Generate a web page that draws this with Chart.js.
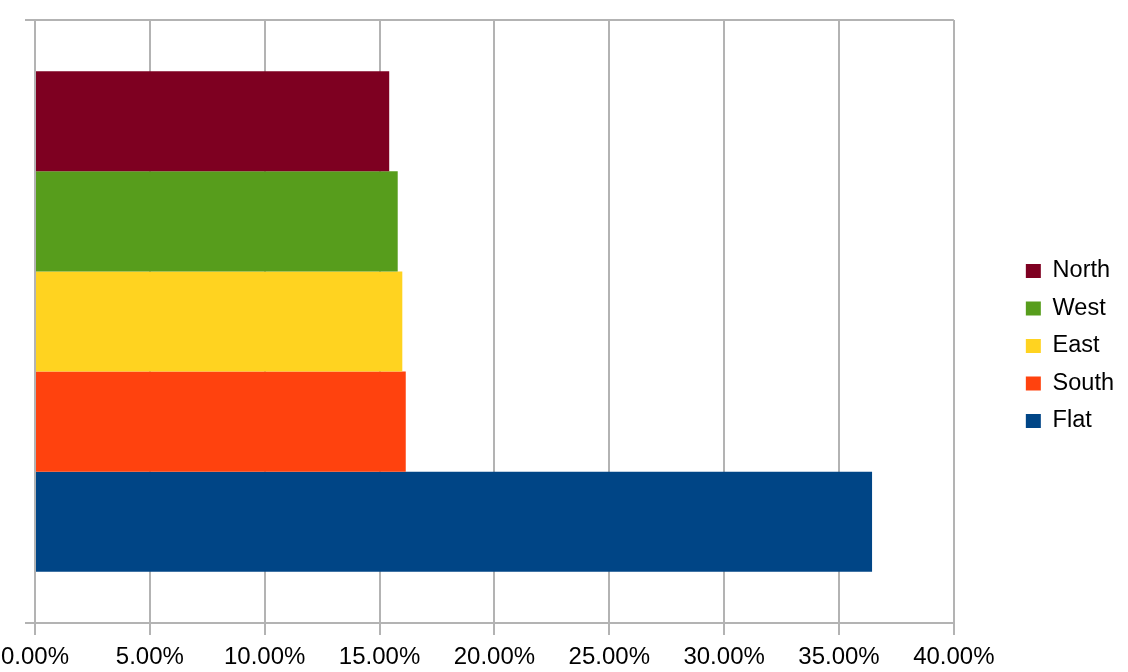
<!DOCTYPE html>
<html><head><meta charset="utf-8">
<script src="https://cdn.jsdelivr.net/npm/chart.js@4/dist/chart.umd.min.js"></script>
<style>html,body{margin:0;padding:0;background:#fff;overflow:hidden}</style>
</head><body>
<canvas id="c" width="1128" height="672"></canvas>
<script>
const categories = [''];
const seriesNames = ['North', 'West', 'East', 'South', 'Flat'];
const seriesColors = ['#7e0021', '#579d1c', '#ffd320', '#ff420e', '#004586'];
const northValues = [15.42];
const westValues = [15.79];
const eastValues = [15.99];
const southValues = [16.14];
const flatValues = [36.44];
const xMin = 0, xMax = 40, xStep = 5;

const seriesValues = [northValues, westValues, eastValues, southValues, flatValues];
const gridColor = '#b3b3b3';
const fontFamily = '"Liberation Sans", Arial, sans-serif';

new Chart(document.getElementById('c'), {
  type: 'bar',
  data: {
    labels: categories,
    datasets: seriesNames.map((name, i) => ({
      label: name,
      data: seriesValues[i],
      backgroundColor: seriesColors[i],
      borderWidth: 0,
      barPercentage: 1,
      categoryPercentage: 0.83
    }))
  },
  options: {
    indexAxis: 'y',
    responsive: false,
    animation: false,
    devicePixelRatio: 1,
    layout: { padding: { top: 20, left: 25, right: 4, bottom: 0 } },
    plugins: {
      tooltip: { enabled: false },
      legend: {
        position: 'right',
        labels: {
          boxWidth: 15,
          boxHeight: 14,
          padding: 14,
          color: '#000',
          font: { family: fontFamily, size: 23.5 }
        }
      }
    },
    scales: {
      x: {
        min: xMin, max: xMax,
        ticks: {
          stepSize: xStep,
          color: '#000',
          padding: 8,
          maxRotation: 0,
          font: { family: fontFamily, size: 24 },
          callback: v => v.toFixed(2) + '%'
        },
        grid: { color: gridColor, lineWidth: 2, tickLength: 12, tickColor: gridColor },
        border: { color: gridColor, width: 2 },
        afterFit: s => { s.height = 49; s.paddingLeft = 0; }
      },
      y: {
        ticks: { display: false },
        grid: { offset: true, color: gridColor, lineWidth: 2, tickLength: 10, tickColor: gridColor },
        border: { color: gridColor, width: 2 }
      },
      gap: {
        type: 'linear',
        position: 'right',
        display: true,
        ticks: { display: false },
        grid: { display: false },
        border: { display: false },
        afterFit: s => { s.width = 58; }
      }
    }
  }
});
</script>
</body></html>
